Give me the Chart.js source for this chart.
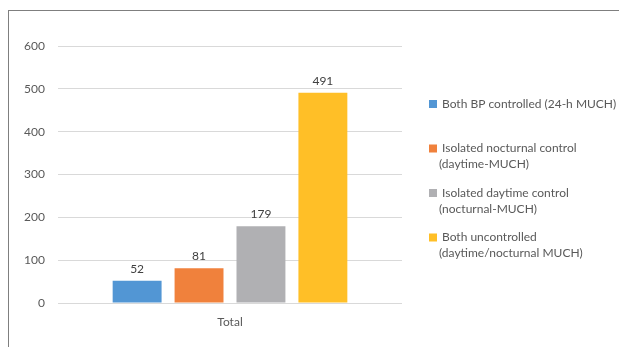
<!DOCTYPE html>
<html>
<head>
<meta charset="utf-8">
<script src="https://cdn.jsdelivr.net/npm/chart.js@4"></script>
<style>
  html, body { margin: 0; padding: 0; background: #fff; }
  #wrap { position: relative; width: 619px; height: 347px; overflow: hidden; }
  #frame { position: absolute; left: 8px; top: 10px; width: 700px; height: 400px;
           border-top: 1px solid #7f7f7f; border-left: 1px solid #7f7f7f; }
  canvas { position: absolute; left: 0; top: 0; }
</style>
</head>
<body>
<div id="wrap">
  <div id="frame"></div>
  <canvas id="chart" width="619" height="347"></canvas>
</div>
<script>
const categories = ['Total'];
const seriesNames = [
    ['Both BP controlled (24-h MUCH)'],
    ['Isolated nocturnal control', '(daytime-MUCH)'],
    ['Isolated daytime control', '(nocturnal-MUCH)'],
    ['Both uncontrolled', '(daytime/nocturnal MUCH)']
];
const seriesValues = [52, 81, 179, 491];
const seriesColors = ['#5296d4', '#f0813c', '#b0b0b3', '#ffbf27'];
const yTicks = [0, 100, 200, 300, 400, 500, 600];

const fontFamily = 'Lato, "Open Sans", sans-serif';

const datasets = seriesNames.map((name, i) => ({
    label: name,
    data: [seriesValues[i]],
    backgroundColor: seriesColors[i],
    borderWidth: 0,
    barPercentage: 0.79,
    categoryPercentage: 0.72
}));

// value labels above the bars
const valueLabels = {
    id: 'valueLabels',
    afterDatasetsDraw(chart) {
        const ctx = chart.ctx;
        ctx.save();
        ctx.font = '12px ' + fontFamily;
        ctx.fillStyle = '#404040';
        ctx.textAlign = 'center';
        ctx.textBaseline = 'bottom';
        chart.data.datasets.forEach((ds, i) => {
            chart.getDatasetMeta(i).data.forEach((bar, j) => {
                ctx.fillText(String(ds.data[j]), bar.x, bar.y - 6);
            });
        });
        ctx.restore();
    }
};

// legend on the right, wrapped labels
const sideLegend = {
    id: 'sideLegend',
    afterDraw(chart) {
        const ctx = chart.ctx;
        const x = chart.chartArea.right + 27;
        let y = 104;
        ctx.save();
        ctx.font = '12px ' + fontFamily;
        ctx.textBaseline = 'middle';
        ctx.textAlign = 'left';
        chart.data.datasets.forEach((ds, i) => {
            ctx.fillStyle = ds.backgroundColor;
            ctx.fillRect(x, y - 4, 8, 8);
            ctx.fillStyle = '#595959';
            ds.label.forEach((line, k) => {
                ctx.fillText(line, k === 0 ? x + 13 : x + 10, y + k * 16);
            });
            y += 44.5;
        });
        ctx.restore();
    }
};

new Chart(document.getElementById('chart').getContext('2d'), {
    type: 'bar',
    data: {
        labels: categories,
        datasets: datasets
    },
    options: {
        responsive: false,
        animation: false,
        layout: {
            padding: { left: 0, right: 217, top: 46, bottom: 0 }
        },
        plugins: {
            legend: { display: false },
            tooltip: { enabled: false }
        },
        scales: {
            x: {
                grid: { display: false, drawTicks: false },
                border: { display: false },
                ticks: {
                    color: '#595959',
                    font: { family: fontFamily, size: 12 },
                    padding: 12
                },
                afterFit(scale) { scale.height = 44; }
            },
            y: {
                min: 0,
                max: 600,
                afterBuildTicks(scale) {
                    scale.ticks = yTicks.map(v => ({ value: v }));
                },
                grid: { color: '#d9d9d9', drawTicks: false },
                border: { display: false },
                ticks: {
                    color: '#595959',
                    font: { family: fontFamily, size: 12 },
                    padding: 13
                },
                afterFit(scale) { scale.width = 58; }
            }
        }
    },
    plugins: [valueLabels, sideLegend]
});
</script>
</body>
</html>
